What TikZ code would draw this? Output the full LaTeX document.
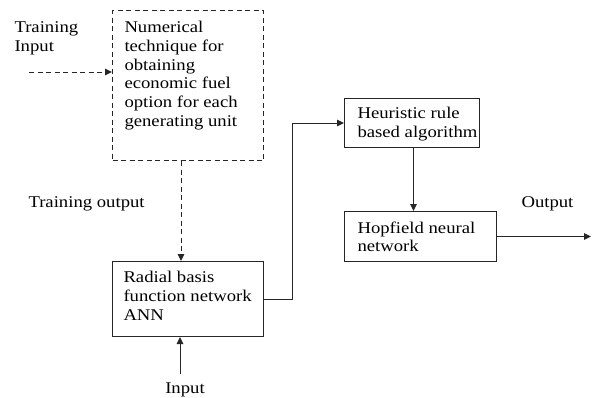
\documentclass[tikz,border=0pt]{standalone}
\usepackage{fontspec}
\setmainfont{Liberation Serif}[FakeStretch=1.14]
\usetikzlibrary{arrows.meta}
\begin{document}
\begin{tikzpicture}[x=1pt,y=-1pt,
  font=\fontsize{16.4}{18.7}\selectfont,
  line width=1pt,
  tip/.style={-{Triangle[length=7pt,width=6.5pt]}},
  dline/.style={dash pattern=on 5pt off 3.5pt},
  boxnode/.style={draw=black!85, anchor=north west, inner sep=0pt, minimum width=#1},
  lnk/.style={draw=black!85, tip},
  txt/.style={anchor=north west, inner sep=0pt, align=left}]
\useasboundingbox (0,0) rectangle (592,397);
% boxes
\node[boxnode=151pt, dline, minimum height=150pt] (num) at (112,10) {};
\node[boxnode=151pt, minimum height=75pt] (rbf) at (112,261) {};
\node[boxnode=135pt, minimum height=49pt] (heur) at (344,98) {};
\node[boxnode=152pt, minimum height=50pt] (hop) at (344,211) {};
% box texts
\node[txt] (numt) at (124,21) {Numerical\\technique for\\obtaining\\economic fuel\\option for each\\generating unit};
\node[txt] (rbft) at (123,271) {Radial basis\\function network\\ANN};
\node[txt] (heurt) at (357,107) {Heuristic rule\\based algorithm};
\node[txt] (hopt) at (357,221) {Hopfield neural\\network};
% free labels
\node[txt] (tinl) at (14,21) {Training\\Input};
\node[anchor=base west, inner sep=0pt] (toutl) at (28,207) {Training output};
\node[anchor=base west, inner sep=0pt] (outl) at (521,207) {Output};
\node[anchor=base, inner sep=0pt] (inl) at (185,393) {Input};
% connectors
\coordinate (tin) at (29,72);
\draw[lnk, dline] (tin) -- (tin -| num.west);
\draw[lnk, dline] ([xshift=-7pt]num.south) -- ([xshift=-7pt]rbf.north);
\coordinate (inp) at (180,374);
\draw[lnk] (inp) -- (inp |- rbf.south);
\draw[lnk] (rbf.east) -- ++(28,0) |- (heur.west);
\draw[lnk] ([xshift=1.5pt]heur.south) -- ([xshift=1.5pt]heur.south |- hop.north);
\coordinate (out) at (591,0);
\draw[lnk] (hop.east) -- (out |- hop.east);
\end{tikzpicture}
\end{document}
